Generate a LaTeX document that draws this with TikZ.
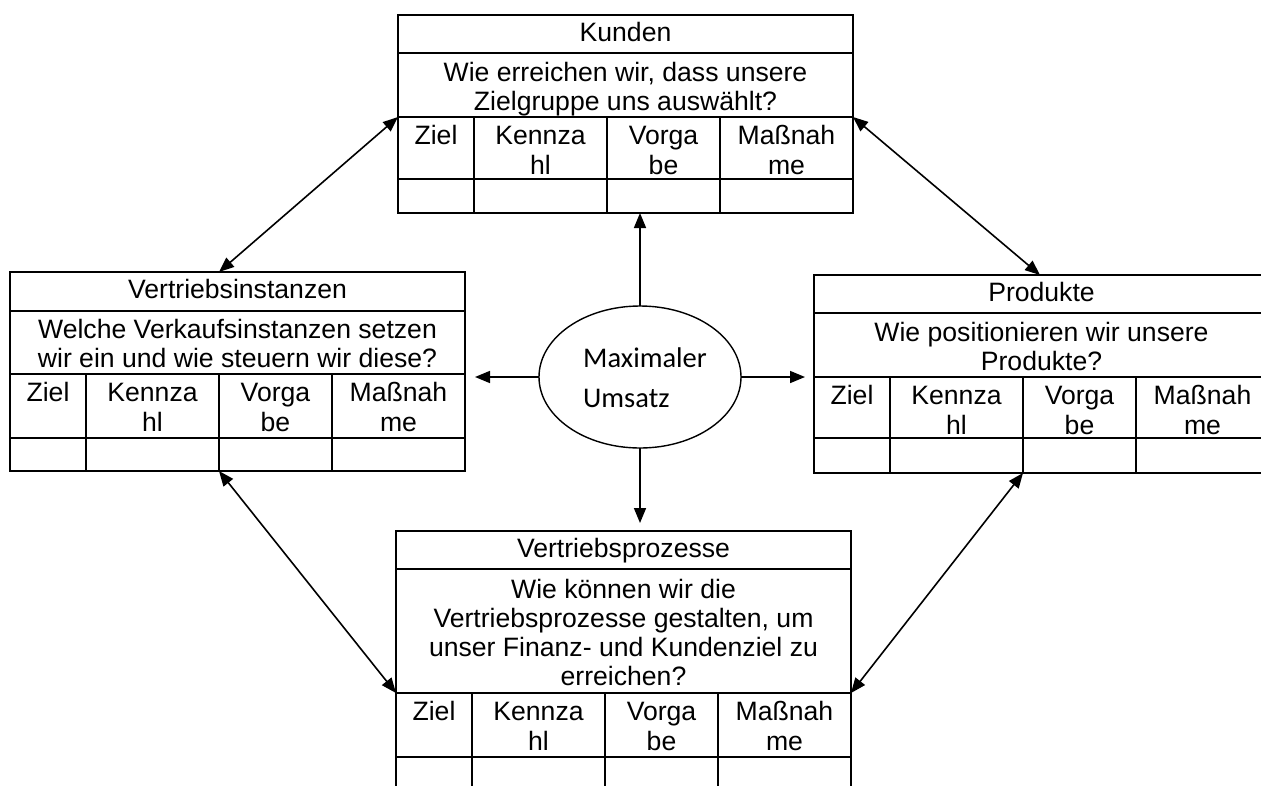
\documentclass[tikz,border=0pt]{standalone}
\usepackage{fontspec}
\setmainfont{Liberation Sans}
\newfontfamily\calibfont{Carlito}
\usetikzlibrary{arrows.meta,shapes.geometric}

\newcommand\mytable[9]{%
  \node[tbl, minimum height={#7pt-#3pt}, anchor=north west] (#1) at (#2,#3) {};
  \draw[tline] (#2,#4) -- ++(455,0);
  \draw[tline] (#2,#5) -- ++(455,0);
  \draw[tline] (#2,#6) -- ++(455,0);
  \foreach \dx in {76,209,322} {\draw[tline] ({#2+\dx},#5) -- ({#2+\dx},#7);}
  \node[hdrtext] (#1-title) at ({#2+227.5},{(#3+#4)/2+1}) {\strut #8};
  \node[qtext] (#1-q) at ({#2+227.5},{(#4+#5)/2+5}) {#9};
  \node[ctext] (#1-c1) at ({#2+38},{#5+6}) {\strut Ziel};
  \node[ctext] (#1-c2) at ({#2+142.5},{#5+6}) {\strut Kennza\\\strut hl};
  \node[ctext] (#1-c3) at ({#2+265.5},{#5+6}) {\strut Vorga\\\strut be};
  \node[ctext] (#1-c4) at ({#2+388.5},{#5+6}) {\strut Maßnah\\\strut me};
  \coordinate (#1-ql) at (#2,#5);
  \coordinate (#1-qr) at ({#2+455},#5);
  \coordinate (#1-t2) at ({#2+209},#3);
  \coordinate (#1-b2) at ({#2+209},#7);
}

\begin{document}
\begin{tikzpicture}[x=1pt,y=-1pt,
  tbl/.style={draw, line width=2.2pt, minimum width=455pt, inner sep=0pt, outer sep=0pt},
  tline/.style={line width=2.2pt},
  hdrtext/.style={inner sep=0pt, font=\fontsize{26.6}{30}\selectfont},
  qtext/.style={inner sep=0pt, align=center, font=\fontsize{26.6}{29}\selectfont},
  ctext/.style={inner sep=0pt, anchor=north, align=center, font=\fontsize{26.6}{30}\selectfont},
  ellnode/.style={draw, ellipse, line width=1.4pt, inner sep=0pt, outer sep=0pt},
  arrone/.style={line width=1.6pt, -{Triangle[length=15pt,width=12pt]}},
  arrtwo/.style={line width=1.6pt, {Triangle[length=15pt,width=12pt]}-{Triangle[length=15pt,width=12pt]}}
]
\useasboundingbox (0,0) rectangle (1261,785);
\clip (0,0) rectangle (1261,785);
\fill[white] (0,0) rectangle (1261,785);

\mytable{K}{398}{15}{53}{117}{179}{213}{Kunden}{\strut Wie erreichen wir, dass unsere\\\strut Zielgruppe uns auswählt?}
\mytable{VI}{10}{272}{311}{374}{438}{471}{Vertriebsinstanzen}{\strut Welche Verkaufsinstanzen setzen\\\strut wir ein und wie steuern wir diese?}
\mytable{P}{814}{275}{313}{377}{438}{473}{Produkte}{\strut Wie positionieren wir unsere\\\strut Produkte?}
\mytable{VP}{396}{531}{569}{693}{757}{791}{Vertriebsprozesse}{\strut Wie können wir die\\\strut Vertriebsprozesse gestalten, um\\\strut unser Finanz- und Kundenziel zu\\\strut erreichen?}

\node[ellnode, minimum width=202pt, minimum height=142pt] (ell) at (640,377) {};
\node[inner sep=0pt, align=left, font=\calibfont\fontsize{28.5}{40}\selectfont] (umsatz) at (645,379) {\strut Maximaler\\\strut Umsatz};

\coordinate (lt) at (475,377);
\coordinate (rt) at (805,377);
\coordinate (dn) at (640,523);

\draw[arrone] (ell.north) -- (ell.north |- K.south);
\draw[arrone] (ell.west) -- (lt);
\draw[arrone] (ell.east) -- (rt);
\draw[arrone] (ell.south) -- (dn);

\draw[arrtwo] (K-ql) -- (VI-t2);
\draw[arrtwo] (K-qr) -- ([xshift=17pt]P-t2);
\draw[arrtwo] (VI-b2) -- (VP-ql);
\draw[arrtwo] (P-b2) -- (VP-qr);
\end{tikzpicture}
\end{document}
